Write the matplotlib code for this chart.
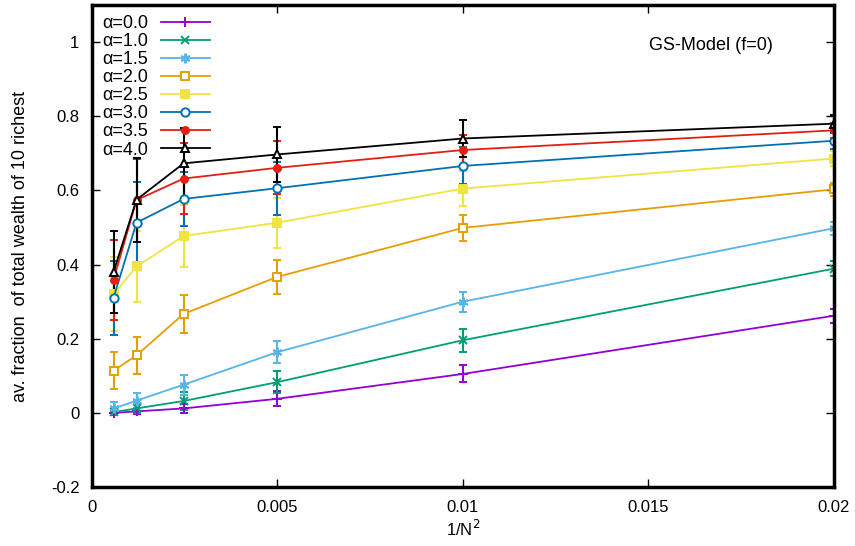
import matplotlib
matplotlib.use("Agg")
import matplotlib.pyplot as plt
from matplotlib.lines import Line2D

plt.rcParams['font.family'] = ['Liberation Sans', 'DejaVu Sans']

# 1/N^2 positions
x = [0.00058, 0.0012, 0.00247, 0.005, 0.01, 0.02]

labels = ["α=0.0", "α=1.0", "α=1.5", "α=2.0", "α=2.5", "α=3.0", "α=3.5", "α=4.0"]

y_a00 = [0.000, 0.004, 0.012, 0.038, 0.105, 0.262]
y_a10 = [0.002, 0.012, 0.032, 0.083, 0.196, 0.389]
y_a15 = [0.012, 0.033, 0.076, 0.164, 0.300, 0.498]
y_a20 = [0.114, 0.155, 0.267, 0.367, 0.499, 0.603]
y_a25 = [0.320, 0.395, 0.477, 0.513, 0.605, 0.686]
y_a30 = [0.310, 0.513, 0.577, 0.606, 0.666, 0.734]
y_a35 = [0.359, 0.574, 0.632, 0.661, 0.709, 0.762]
y_a40 = [0.380, 0.575, 0.673, 0.697, 0.740, 0.780]

e_a00 = [0.005, 0.008, 0.012, 0.020, 0.023, 0.019]
e_a10 = [0.008, 0.012, 0.025, 0.030, 0.031, 0.021]
e_a15 = [0.016, 0.021, 0.027, 0.030, 0.027, 0.018]
e_a20 = [0.050, 0.049, 0.051, 0.046, 0.036, 0.018]
e_a25 = [0.100, 0.096, 0.083, 0.067, 0.048, 0.020]
e_a30 = [0.100, 0.110, 0.072, 0.071, 0.050, 0.022]
e_a35 = [0.108, 0.112, 0.095, 0.072, 0.040, 0.020]
e_a40 = [0.110, 0.113, 0.094, 0.075, 0.050, 0.023]

ys = [y_a00, y_a10, y_a15, y_a20, y_a25, y_a30, y_a35, y_a40]
es = [e_a00, e_a10, e_a15, e_a20, e_a25, e_a30, e_a35, e_a40]

colors = ['#9400d3', '#009e73', '#56b4e9', '#e69f00', '#f0e442', '#0072b2', '#e51e10', '#000000']
markers = ['+', 'x', (6, 2, 0), 's', 's', 'o', 'o', '^']
filled = [True, True, True, False, True, False, True, False]
msizes = [7, 6, 7, 6, 6, 6, 5, 6]

fig = plt.figure(figsize=(8.55, 5.46), dpi=100)
ax = fig.add_axes([0.1076, 0.108, 0.8678, 0.8828])

handles = []
for yv, ev, c, m, f, ms, lab in zip(ys, es, colors, markers, filled, msizes, labels):
    style = dict(color=c, marker=m, markersize=ms,
                 markerfacecolor=c if f else 'white', markeredgecolor=c,
                 markeredgewidth=1.4, linewidth=1.3)
    ax.errorbar(x, yv, yerr=ev, elinewidth=1.5, capsize=3, capthick=1.5, **style)
    handles.append(Line2D([], [], label=lab, **style))

ax.set_xlim(0, 0.02)
ax.set_ylim(-0.2, 1.1)
ax.set_xticks([0, 0.005, 0.01, 0.015, 0.02])
ax.set_xticklabels(["0", "0.005", "0.01", "0.015", "0.02"])
ax.set_yticks([-0.2, 0, 0.2, 0.4, 0.6, 0.8, 1.0])
ax.set_yticklabels(["-0.2", "0", "0.2", "0.4", "0.6", "0.8", "1"])
ax.tick_params(direction='in', top=True, right=True, length=6, width=1,
               labelsize=12, pad=9)
for s in ax.spines.values():
    s.set_linewidth(2.5)

ax.set_xlabel("1/N$^2$", fontsize=12, labelpad=3)
ax.set_ylabel("av. fraction  of total wealth of 10 richest", fontsize=13, labelpad=16)

ax.text(0.918, 0.9156, "GS-Model (f=0)", transform=ax.transAxes, ha='right',
        va='center', fontsize=13)

ax.legend(handles=handles, loc='upper left', frameon=False, markerfirst=False,
          fontsize=13, handlelength=2.75, labelspacing=0.06, borderaxespad=0.15,
          handletextpad=0.7)

plt.savefig("out.png", dpi=100)
plt.close()
